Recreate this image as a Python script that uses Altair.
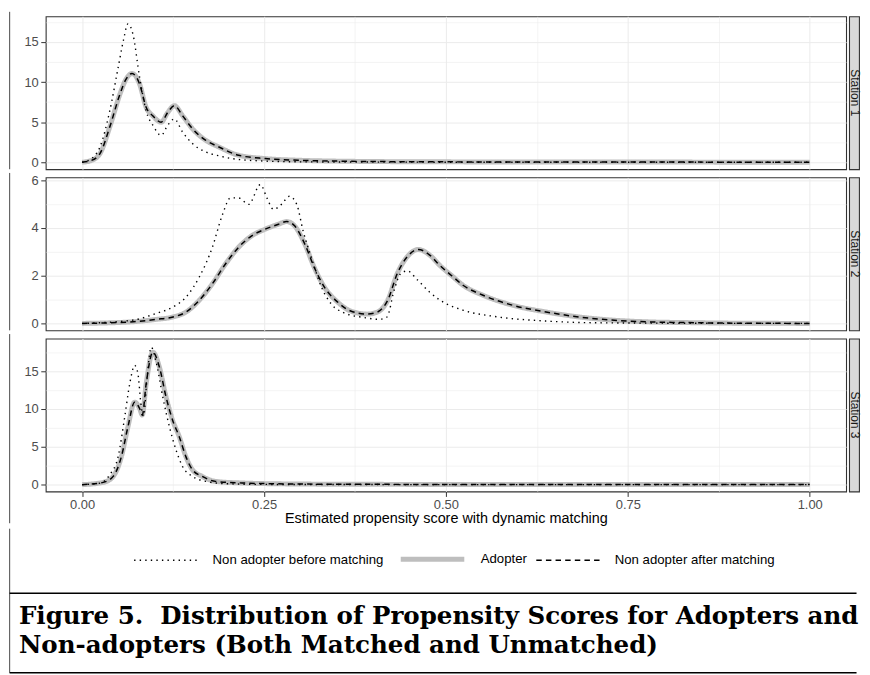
import altair as alt
import pandas as pd

SERIES = ["Non adopter before matching", "Adopter", "Non adopter after matching"]
STATIONS = ["Station 1", "Station 2", "Station 3"]
X_GRID = [0.0, 0.125, 0.25, 0.375, 0.5, 0.625, 0.75, 0.875, 1.0]
Y_GRID_13 = [0, 2.5, 5, 7.5, 10, 12.5, 15, 17.5]
Y_GRID_2 = [0, 1, 2, 3, 4, 5, 6]
Y_DOMAINS = [[-0.87, 18.2], [-0.29, 6.12], [-0.9, 19.3]]
X_TITLE = "Estimated propensity score with dynamic matching"
CAPTION_LINES = ["Figure 5.\u00a0 Distribution of Propensity Scores for Adopters and",
                 "Non-adopters (Both Matched and Unmatched)"]

# Station 1
S1_ADOPT_X = [0, 0.012, 0.0245, 0.038, 0.052, 0.06, 0.0686, 0.074, 0.079, 0.088, 0.097, 0.1086,
              0.1176, 0.1267, 0.138, 0.1517, 0.17, 0.188, 0.215, 0.2516, 0.297, 0.35, 0.40, 0.5,
              0.6, 0.7, 0.8, 0.9, 1.0]
S1_ADOPT_Y = [0, 0.2, 1.08, 4.4, 8.5, 10.3, 11.07, 10.7, 9.75, 6.85, 5.8, 5.0,
              6.2, 7.06, 5.82, 4.17, 2.73, 1.9, 0.87, 0.46, 0.25, 0.14, 0.09, 0.05,
              0.03, 0.02, 0.02, 0.01, 0.01]
S1_BEFORE_X = [0, 0.012, 0.0245, 0.038, 0.0495, 0.057, 0.063, 0.07, 0.079, 0.088, 0.098, 0.1086,
               0.1176, 0.1267, 0.138, 0.152, 0.17, 0.188, 0.206, 0.25, 0.3, 0.4, 0.6, 0.8, 1.0]
S1_BEFORE_Y = [0, 0.4, 1.9, 6.4, 11.8, 15.3, 17.26, 15.9, 10.6, 6.4, 4.5, 3.35,
               4.6, 5.4, 3.77, 2.3, 1.28, 0.8, 0.46, 0.15, 0.05, 0.02, 0, 0, 0]

# Station 2
S2_ADOPT_X = [0, 0.07, 0.102, 0.125, 0.143, 0.161, 0.179, 0.197, 0.215, 0.233, 0.2516, 0.27, 0.281,
              0.292, 0.306, 0.319, 0.333, 0.351, 0.369, 0.392, 0.406, 0.42, 0.433, 0.447, 0.462,
              0.4786, 0.492, 0.508, 0.524, 0.551, 0.592, 0.6376, 0.683, 0.728, 0.774, 0.842, 0.9, 1.0]
S2_ADOPT_Y = [0, 0.07, 0.17, 0.27, 0.48, 0.97, 1.66, 2.49, 3.19, 3.67, 3.95, 4.16, 4.27,
              4.09, 3.33, 2.35, 1.52, 0.9, 0.52, 0.39, 0.48, 0.97, 2.08, 2.8, 3.1,
              2.84, 2.42, 2.0, 1.59, 1.18, 0.76, 0.48, 0.27, 0.14, 0.07, 0.03, 0.01, 0]
S2_BEFORE_X = [0, 0.07, 0.102, 0.125, 0.143, 0.161, 0.179, 0.193, 0.204, 0.215, 0.229, 0.245, 0.254,
               0.263, 0.274, 0.285, 0.295, 0.3037, 0.315, 0.329, 0.342, 0.36, 0.387, 0.408, 0.419,
               0.4287, 0.4377, 0.447, 0.46, 0.478, 0.492, 0.524, 0.5695, 0.637, 0.7, 0.8, 1.0]
S2_BEFORE_Y = [0, 0.14, 0.42, 0.69, 1.11, 1.94, 3.19, 4.57, 5.26, 5.26, 4.99, 5.82, 5.26,
               4.78, 4.99, 5.33, 4.99, 3.88, 2.77, 1.52, 0.83, 0.44, 0.25, 0.17, 0.27,
               1.38, 2.08, 2.2, 1.85, 1.3, 0.97, 0.55, 0.28, 0.1, 0.03, 0.01, 0]

# Station 3
S3_ADOPT_X = [0, 0.029, 0.0427, 0.054, 0.063, 0.0722, 0.079, 0.0827, 0.088, 0.0972, 0.1063, 0.1153,
              0.1244, 0.1335, 0.1426, 0.1516, 0.165, 0.1835, 0.22, 0.288, 0.4, 0.6, 0.8, 1.0]
S3_ADOPT_Y = [0, 0.3, 1.09, 3.7, 7.65, 10.9, 10.06, 9.19, 13.3, 17.5, 15.5, 11.6,
              8.5, 6.34, 3.7, 1.97, 1.09, 0.43, 0.22, 0.09, 0.04, 0.02, 0.01, 0.01]
S3_BEFORE_X = [0, 0.025, 0.038, 0.0495, 0.0586, 0.0654, 0.0722, 0.0767, 0.0813, 0.0845, 0.089, 0.095,
               0.1017, 0.1108, 0.12, 0.129, 0.138, 0.1516, 0.17, 0.197, 0.25, 0.4, 0.7, 1.0]
S3_BEFORE_Y = [0, 0.2, 1.31, 3.7, 8.96, 13.3, 15.75, 14.66, 10.3, 9.06, 13.8, 18.15,
               16.2, 11.6, 7.65, 4.6, 2.4, 1.09, 0.43, 0.13, 0.03, 0.01, 0, 0]

CURVES = [
    (S1_ADOPT_X, S1_ADOPT_Y, S1_BEFORE_X, S1_BEFORE_Y),
    (S2_ADOPT_X, S2_ADOPT_Y, S2_BEFORE_X, S2_BEFORE_Y),
    (S3_ADOPT_X, S3_ADOPT_Y, S3_BEFORE_X, S3_BEFORE_Y),
]

FONT = "Liberation Sans"
GRID = "#EBEBEB"
BORDER = "#333333"
FRAME = "#666666"
PANEL_W = 806
PANEL_H = 154
CAP_OFF = 65

LEG = alt.Legend(title=None, orient="none", legendX=88, legendY=512, direction="horizontal",
                 symbolType="stroke", symbolSize=4096, labelFont=FONT, labelFontSize=13.3,
                 labelColor="black", labelOffset=14, columnPadding=6, labelLimit=400)

one = alt.Data(values=[{}])


def make_df(ax, ay, bx, by):
    rows = []
    for x, y in zip(ax, ay):
        rows.append({"x": x, "y": y, "series": "Adopter"})
    for x, y in zip(ax, ay):
        rows.append({"x": x, "y": y, "series": "Non adopter after matching"})
    for x, y in zip(bx, by):
        rows.append({"x": x, "y": y, "series": "Non adopter before matching"})
    return pd.DataFrame(rows)


def panel(i):
    ax, ay, bx, by = CURVES[i]
    df = make_df(ax, ay, bx, by)
    bottom = i == 2
    x_major = "round(datum.value*8) % 2 == 0"
    if bottom:
        xaxis = alt.Axis(values=X_GRID, title=X_TITLE, domain=False,
                         labelExpr=f"{x_major} ? format(datum.value, '.2f') : ''",
                         tickOpacity={"condition": {"test": x_major, "value": 1}, "value": 0},
                         gridWidth={"condition": {"test": x_major, "value": 1.0}, "value": 0.55},
                         gridColor=GRID, tickColor=BORDER, tickSize=5, labelPadding=2,
                         labelFont=FONT, labelFontSize=13, labelColor="#4D4D4D",
                         titleFont=FONT, titleFontSize=14.5, titleFontWeight="normal",
                         titleColor="black", titlePadding=0.5)
    else:
        xaxis = alt.Axis(values=X_GRID, title=None, labels=False, ticks=False, domain=False,
                         gridWidth={"condition": {"test": x_major, "value": 1.0}, "value": 0.55},
                         gridColor=GRID)
    yvals = Y_GRID_2 if i == 1 else Y_GRID_13
    y_major = "datum.value % 2 == 0" if i == 1 else "datum.value % 5 == 0"
    yaxis = alt.Axis(values=yvals, title=None, domain=False,
                     labelExpr=f"{y_major} ? datum.label : ''",
                     tickOpacity={"condition": {"test": y_major, "value": 1}, "value": 0},
                     gridWidth={"condition": {"test": y_major, "value": 1.0}, "value": 0.55},
                     gridColor=GRID, tickColor=BORDER, tickSize=5, labelPadding=2.5,
                     labelFont=FONT, labelFontSize=13, labelColor="#4D4D4D",
                     minExtent=37, maxExtent=37)
    enc = dict(
        x=alt.X("x:Q", scale=alt.Scale(domain=[-0.05, 1.05], nice=False, zero=False), axis=xaxis),
        y=alt.Y("y:Q", scale=alt.Scale(domain=Y_DOMAINS[i], nice=False, zero=False), axis=yaxis),
        color=alt.Color("series:N", scale=alt.Scale(domain=SERIES, range=["#000000", "#BEBEBE", "#000000"]), legend=LEG),
        strokeDash=alt.StrokeDash("series:N", scale=alt.Scale(type="ordinal", domain=SERIES, range=[[1.4, 4.2], [1, 0], [5.5, 4.2]]), legend=LEG),
        strokeWidth=alt.StrokeWidth("series:N", scale=alt.Scale(type="ordinal", domain=SERIES, range=[1.4, 5.0, 1.5]), legend=LEG),
        order=alt.Order("x:Q"),
    )
    base = alt.Chart(df)
    layers = []
    for s in ["Adopter", "Non adopter after matching", "Non adopter before matching"]:
        layers.append(base.transform_filter(alt.datum.series == s)
                      .mark_line(interpolate="monotone", strokeCap="butt").encode(**enc))
    # left frame segment of the figure border
    y_end = PANEL_H if not bottom else PANEL_H + 32
    layers.append(alt.Chart(one).mark_rule(color=FRAME, strokeWidth=1.2).encode(
        x=alt.value(-36.4), y=alt.value(-4.5), y2=alt.value(y_end)))
    return alt.layer(*layers).properties(
        width=PANEL_W, height=PANEL_H, view=alt.ViewBackground(stroke=BORDER, strokeWidth=1.1))


def strip(i):
    return alt.Chart(alt.Data(values=[{"station": STATIONS[i]}])).mark_text(
        angle=90, font=FONT, fontSize=12, color="#1A1A1A", align="center", baseline="middle"
    ).encode(text="station:N", x=alt.value(5.5), y=alt.value(PANEL_H / 2)).properties(
        width=10, height=PANEL_H, view=alt.ViewBackground(fill="#D9D9D9", stroke=BORDER, strokeWidth=1.1))


rows = [alt.hconcat(panel(i), strip(i), spacing=0) for i in range(3)]
inner = alt.vconcat(*rows, spacing=-1.75)

cap_text = alt.Chart(one).mark_text(
    text=CAPTION_LINES, align="left", baseline="alphabetic", font="DejaVu Serif",
    fontWeight="bold", fontSize=24.7, lineHeight=29, color="black"
).encode(x=alt.value(-27), y=alt.value(CAP_OFF + 31))
cap_top = alt.Chart(one).mark_rule(color="black", strokeWidth=1.5).encode(
    x=alt.value(-36.4), x2=alt.value(816.5), y=alt.value(CAP_OFF))
cap_bottom = alt.Chart(one).mark_rule(color="black", strokeWidth=1.5).encode(
    x=alt.value(-36.4), x2=alt.value(816.5), y=alt.value(CAP_OFF + 80))
frame_left = alt.Chart(one).mark_rule(color=FRAME, strokeWidth=1.2).encode(
    x=alt.value(-36.4), y=alt.value(0), y2=alt.value(CAP_OFF + 80))
caption = alt.layer(frame_left, cap_top, cap_bottom, cap_text).properties(
    width=PANEL_W, height=CAP_OFF + 80, view=alt.ViewBackground(stroke="transparent"))

chart = alt.vconcat(inner, caption, spacing=0).properties(
    padding={"left": 0, "top": 0, "right": 0, "bottom": 0}, background="white")

chart.save("out.html", embed_options={"renderer": "svg", "actions": False})
